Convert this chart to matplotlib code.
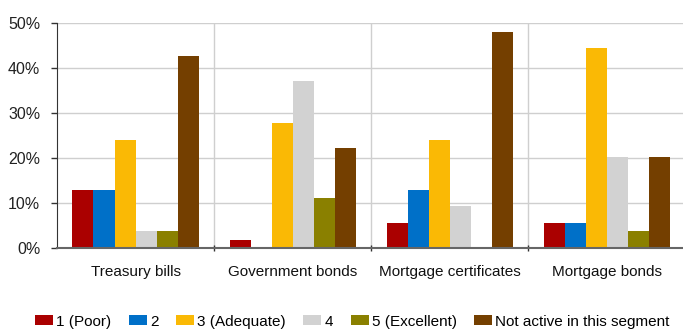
import matplotlib.pyplot as plt
import numpy as np

plt.rcParams['font.family'] = ['Liberation Sans', 'DejaVu Sans']

categories = ["Treasury bills", "Government bonds", "Mortgage certificates", "Mortgage bonds"]
series_names = ["1 (Poor)", "2", "3 (Adequate)", "4", "5 (Excellent)", "Not active in this segment"]
colors = ["#AA0000", "#0070C8", "#FAB905", "#D2D2D2", "#8A8000", "#743F00"]

# share of respondents per rating, one list per rating
poor = [13.0, 1.9, 5.6, 5.6]
two = [13.0, 0.0, 13.0, 5.6]
adequate = [23.9, 27.8, 23.9, 44.5]
four = [3.7, 37.2, 9.4, 20.3]
excellent = [3.7, 11.2, 0.0, 3.7]
not_active = [42.6, 22.3, 48.1, 20.3]
values = [poor, two, adequate, four, excellent, not_active]

fig = plt.figure(figsize=(6.83, 3.29), dpi=100)
ax = fig.add_axes([0.0835, 0.246, 0.92, 0.684])

n = len(values)
w = 0.134
x = np.arange(len(categories))
for i, (vals, name, c) in enumerate(zip(values, series_names, colors)):
    ax.bar(x + (i - (n - 1) / 2) * w, vals, width=w, color=c, label=name, zorder=3)

ax.set_xlim(-0.5, len(categories) - 0.5)
ax.set_ylim(0, 50)
ax.set_yticks(np.arange(0, 51, 10))
ax.set_yticklabels([f"{v}%" for v in range(0, 51, 10)], fontsize=11.5, color="#222222")
ax.yaxis.grid(True, color="#CFCFCF", lw=1, zorder=0)
for b in np.arange(0.5, len(categories) - 0.5, 1):
    ax.axvline(b, color="#CFCFCF", lw=1, zorder=0)

ax.set_xticks(x)
ax.set_xticklabels(categories, fontsize=11, color="#111111")
ax.tick_params(axis='x', length=0, pad=12)
ax.set_xticks(np.arange(0.5, len(categories) - 0.5, 1), minor=True)
ax.tick_params(axis='x', which='minor', length=4, width=1, color="#333333", direction='inout')
ax.tick_params(axis='y', length=4, width=1, color="#333333", pad=8)

for s in ['top', 'right']:
    ax.spines[s].set_visible(False)
ax.spines['left'].set_color("#333333")
ax.spines['bottom'].set_color("#666666")
ax.spines['bottom'].set_linewidth(1.5)
ax.spines['bottom'].set_zorder(4)

fig.legend(loc='center', bbox_to_anchor=(0.516, 0.022), ncol=6, frameon=False,
           fontsize=11, handlelength=1.18, handleheight=0.65, handletextpad=0.2,
           columnspacing=1.15, borderaxespad=0)

fig.savefig("out.png", dpi=100)
